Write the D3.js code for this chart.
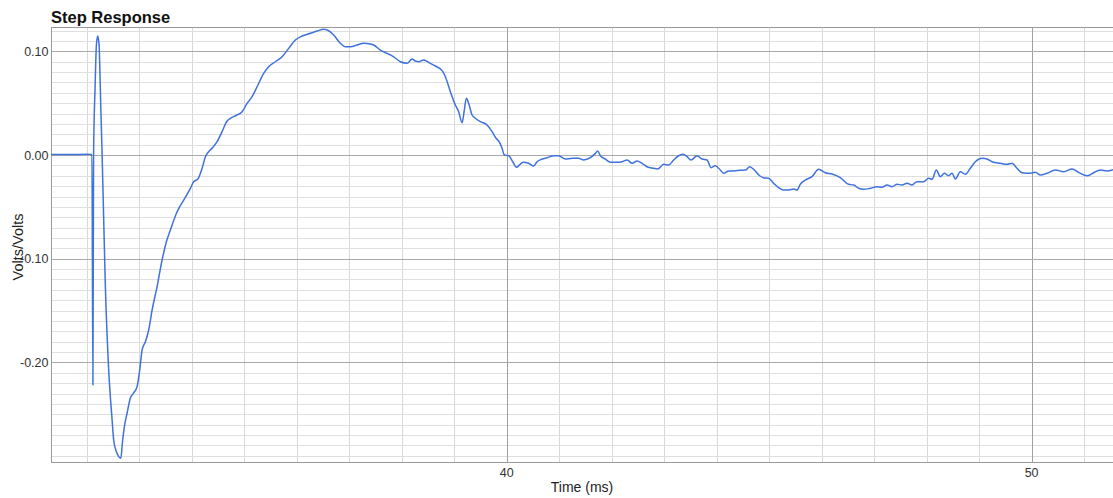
<!DOCTYPE html>
<html>
<head>
<meta charset="utf-8">
<script src="https://cdn.jsdelivr.net/npm/d3@7"></script>
<style>
  html, body { margin: 0; padding: 0; background: #fff; }
  svg { display: block; }
  text { font-family: "Liberation Sans", Arial, Helvetica, sans-serif; }
</style>
</head>
<body>
<svg id="chart" width="1113" height="498"></svg>
<script>
// Step response samples: time in ms, amplitude in Volts/Volts
const timeMs = [
  31.32, 31.70, 32.00, 32.100, 32.118, 32.131, 32.160, 32.185, 32.210, 32.236,
  32.251, 32.270, 32.293, 32.324, 32.356, 32.419, 32.484, 32.514, 32.566, 32.610,
  32.651, 32.680, 32.718, 32.770, 32.832, 32.895, 32.960, 33.010, 33.055, 33.118,
  33.181, 33.246, 33.341, 33.436, 33.518, 33.594, 33.722, 33.848, 33.975, 34.038,
  34.114, 34.198, 34.261, 34.324, 34.389, 34.484, 34.579, 34.674, 34.737, 34.865,
  34.960, 35.055, 35.150, 35.246, 35.371, 35.467, 35.594, 35.722, 35.848, 35.975,
  36.103, 36.261, 36.389, 36.514, 36.610, 36.705, 36.832, 36.928, 37.023, 37.150,
  37.276, 37.404, 37.467, 37.594, 37.722, 37.848, 37.975, 38.103, 38.198, 38.261,
  38.324, 38.419, 38.547, 38.642, 38.770, 38.832, 38.928, 39.023, 39.086, 39.150,
  39.194, 39.232, 39.276, 39.341, 39.404, 39.499, 39.627, 39.722, 39.785, 39.867,
  39.912, 39.956, 40.038, 40.122, 40.185, 40.229, 40.312, 40.419, 40.514, 40.579,
  40.674, 40.770, 40.895, 40.990, 41.118, 41.246, 41.371, 41.467, 41.594, 41.690,
  41.733, 41.785, 41.880, 41.975, 42.103, 42.198, 42.293, 42.389, 42.484, 42.579,
  42.674, 42.800, 42.876, 42.990, 43.086, 43.181, 43.276, 43.360, 43.436, 43.512,
  43.627, 43.722, 43.817, 43.893, 43.975, 44.070, 44.133, 44.229, 44.324, 44.451,
  44.547, 44.629, 44.718, 44.819, 44.895, 44.990, 45.086, 45.181, 45.276, 45.371,
  45.467, 45.531, 45.594, 45.690, 45.817, 45.943, 46.070, 46.198, 46.356, 46.514,
  46.610, 46.705, 46.800, 46.928, 47.055, 47.150, 47.246, 47.341, 47.436, 47.531,
  47.627, 47.722, 47.817, 47.943, 48.038, 48.103, 48.185, 48.261, 48.337, 48.419,
  48.484, 48.547, 48.642, 48.737, 48.832, 48.928, 49.055, 49.150, 49.246, 49.404,
  49.531, 49.627, 49.722, 49.817, 49.975, 50.070, 50.166, 50.293, 50.451, 50.610,
  50.770, 50.895, 51.055, 51.181, 51.309, 51.436, 51.550
];

const voltsPerVolt = [
  0.0006, 0.0005, 0.0007, 0.0006, -0.2217, 0.0000, 0.0658, 0.1060, 0.1147, 0.1060,
  0.0819, 0.0434, 0.0019, -0.0627, -0.1272, -0.2072, -0.2554, -0.2747, -0.2860, -0.2908,
  -0.2923, -0.2776, -0.2619, -0.2487, -0.2342, -0.2294, -0.2233, -0.2072, -0.1880, -0.1800,
  -0.1687, -0.1494, -0.1269, -0.1012, -0.0836, -0.0723, -0.0547, -0.0434, -0.0321, -0.0257,
  -0.0234, -0.0128, -0.0016, 0.0032, 0.0065, 0.0128, 0.0225, 0.0328, 0.0354, 0.0386,
  0.0417, 0.0498, 0.0562, 0.0658, 0.0787, 0.0851, 0.0899, 0.0947, 0.1028, 0.1108,
  0.1147, 0.1173, 0.1195, 0.1212, 0.1198, 0.1157, 0.1077, 0.1044, 0.1044, 0.1060,
  0.1077, 0.1070, 0.1060, 0.1012, 0.0980, 0.0947, 0.0899, 0.0884, 0.0925, 0.0906,
  0.0899, 0.0916, 0.0884, 0.0858, 0.0813, 0.0755, 0.0610, 0.0482, 0.0417, 0.0311,
  0.0434, 0.0547, 0.0498, 0.0386, 0.0354, 0.0321, 0.0289, 0.0225, 0.0171, 0.0119,
  0.0065, 0.0000, -0.0007, -0.0070, -0.0119, -0.0103, -0.0070, -0.0080, -0.0106, -0.0065,
  -0.0039, -0.0026, -0.0007, -0.0007, -0.0039, -0.0032, -0.0032, -0.0048, -0.0026, 0.0016,
  0.0039, -0.0007, -0.0039, -0.0070, -0.0070, -0.0065, -0.0048, -0.0080, -0.0058, -0.0080,
  -0.0113, -0.0128, -0.0135, -0.0090, -0.0096, -0.0048, -0.0007, 0.0007, -0.0016, -0.0048,
  -0.0007, -0.0039, -0.0048, -0.0122, -0.0103, -0.0145, -0.0176, -0.0154, -0.0154, -0.0147,
  -0.0145, -0.0113, -0.0145, -0.0200, -0.0219, -0.0225, -0.0273, -0.0315, -0.0337, -0.0337,
  -0.0328, -0.0337, -0.0282, -0.0241, -0.0209, -0.0138, -0.0171, -0.0183, -0.0219, -0.0282,
  -0.0289, -0.0321, -0.0331, -0.0321, -0.0306, -0.0311, -0.0289, -0.0306, -0.0282, -0.0289,
  -0.0273, -0.0289, -0.0257, -0.0257, -0.0225, -0.0234, -0.0145, -0.0209, -0.0176, -0.0200,
  -0.0176, -0.0231, -0.0161, -0.0186, -0.0128, -0.0065, -0.0032, -0.0039, -0.0065, -0.0080,
  -0.0090, -0.0080, -0.0128, -0.0171, -0.0176, -0.0167, -0.0193, -0.0176, -0.0145, -0.0161,
  -0.0135, -0.0167, -0.0200, -0.0171, -0.0145, -0.0154, -0.0142
];

// Axis labels and labelled ticks
const xTickLabels = [40, 50];
const yTickLabels = [-0.20, -0.10, 0.00, 0.10];
const titleText = "Step Response";
const xAxisTitle = "Time (ms)";
const yAxisTitle = "Volts/Volts";

const width = 1113, height = 498;
const margin = { top: 27, right: 0, bottom: 35, left: 51 };
const plotW = width - margin.left - margin.right;
const plotH = height - margin.top - margin.bottom;

const x = d3.scaleLinear().domain([31.32, 51.55]).range([margin.left, margin.left + plotW]);
const y = d3.scaleLinear().domain([-0.2969, 0.1234]).range([margin.top + plotH, margin.top]);

// Plain hyphen-minus for negative tick labels
const fmtY = d => d.toFixed(2);

const svg = d3.select("#chart");

svg.append("defs").append("clipPath").attr("id", "plot-clip")
  .append("rect")
  .attr("x", margin.left).attr("y", margin.top)
  .attr("width", plotW).attr("height", plotH);

const grid = svg.append("g");

// Minor grid: every 1 ms and every 0.01 V/V
const minorX = d3.range(32, 52, 1).filter(v => xTickLabels.indexOf(v) < 0);
const minorY = d3.range(-29, 13, 1).map(v => v / 100).filter(v => !yTickLabels.some(t => Math.abs(t - v) < 1e-9));

grid.selectAll(".minor-x").data(minorX).join("line")
  .attr("x1", d => Math.round(x(d)) + 0.5).attr("x2", d => Math.round(x(d)) + 0.5)
  .attr("y1", margin.top).attr("y2", margin.top + plotH)
  .attr("stroke", "#d9d9d9").attr("stroke-width", 1);

grid.selectAll(".minor-y").data(minorY).join("line")
  .attr("x1", margin.left).attr("x2", margin.left + plotW)
  .attr("y1", d => Math.round(y(d)) + 0.5).attr("y2", d => Math.round(y(d)) + 0.5)
  .attr("stroke", "#dfdfdf").attr("stroke-width", 1);

// Major grid
grid.selectAll(".major-x").data(xTickLabels).join("line")
  .attr("x1", d => Math.round(x(d)) + 0.5).attr("x2", d => Math.round(x(d)) + 0.5)
  .attr("y1", margin.top).attr("y2", margin.top + plotH)
  .attr("stroke", "#a0a0a0").attr("stroke-width", 1);

grid.selectAll(".major-y").data(yTickLabels).join("line")
  .attr("x1", margin.left).attr("x2", margin.left + plotW)
  .attr("y1", d => Math.round(y(d)) + 0.5).attr("y2", d => Math.round(y(d)) + 0.5)
  .attr("stroke", "#aaaaaa").attr("stroke-width", 1);

// Frame
const frame = svg.append("g").attr("stroke", "#9a9a9a").attr("stroke-width", 1);
frame.append("line").attr("x1", margin.left).attr("x2", width)
  .attr("y1", margin.top + 0.5).attr("y2", margin.top + 0.5);
frame.append("line").attr("x1", margin.left).attr("x2", width)
  .attr("y1", margin.top + plotH - 0.5).attr("y2", margin.top + plotH - 0.5);
frame.append("line").attr("x1", margin.left + 0.5).attr("x2", margin.left + 0.5)
  .attr("y1", margin.top).attr("y2", margin.top + plotH);

// Response trace
const points = timeMs.map((t, i) => [t, voltsPerVolt[i]]);
const line = d3.line()
  .x(d => x(d[0]))
  .y(d => y(d[1]))
  .curve(d3.curveMonotoneX);

svg.append("path")
  .datum(points)
  .attr("clip-path", "url(#plot-clip)")
  .attr("fill", "none")
  .attr("stroke", "#3f72dd")
  .attr("stroke-width", 1.5)
  .attr("stroke-linejoin", "round")
  .attr("d", line);

// Tick labels
svg.append("g").selectAll("text").data(yTickLabels).join("text")
  .attr("x", 48.5)
  .attr("y", d => y(d))
  .attr("dy", "0.36em")
  .attr("text-anchor", "end")
  .attr("font-size", "12.5px")
  .attr("fill", "#333")
  .text(fmtY);

svg.append("g").selectAll("text").data(xTickLabels).join("text")
  .attr("x", d => x(d))
  .attr("y", 477)
  .attr("text-anchor", "middle")
  .attr("font-size", "12.5px")
  .attr("fill", "#333")
  .text(d => d);

// Titles
svg.append("text")
  .attr("x", margin.left)
  .attr("y", 22.5)
  .attr("font-size", "16.5px")
  .attr("font-weight", "bold")
  .attr("fill", "#111")
  .text(titleText);

svg.append("text")
  .attr("x", margin.left + plotW / 2)
  .attr("y", 491.5)
  .attr("text-anchor", "middle")
  .attr("font-size", "14px")
  .attr("fill", "#222")
  .text(xAxisTitle);

svg.append("text")
  .attr("transform", `translate(22.5, ${margin.top + plotH / 2 + 2}) rotate(-90)`)
  .attr("text-anchor", "middle")
  .attr("font-size", "14.5px")
  .attr("fill", "#222")
  .text(yAxisTitle);
</script>
</body>
</html>
